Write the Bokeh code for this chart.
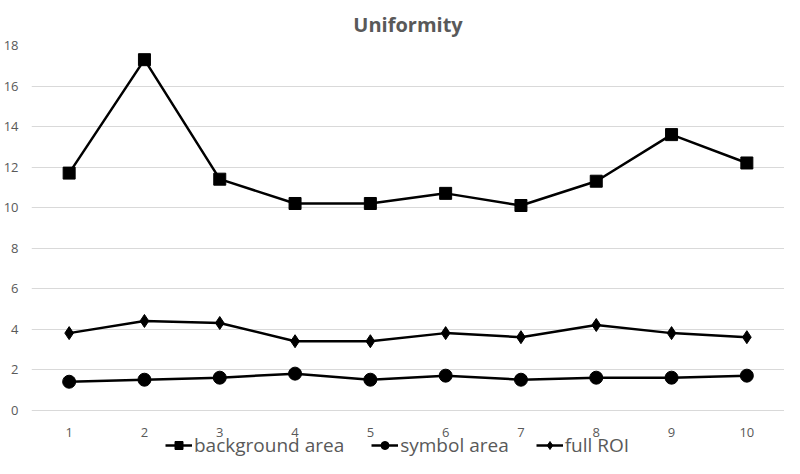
from bokeh.plotting import figure
from bokeh.models import Range1d, FixedTicker, Legend, LegendItem
from bokeh.embed import file_html
from bokeh.resources import INLINE

x = [1, 2, 3, 4, 5, 6, 7, 8, 9, 10]
background_area = [11.7, 17.3, 11.4, 10.2, 10.2, 10.7, 10.1, 11.3, 13.6, 12.2]
symbol_area = [1.4, 1.5, 1.6, 1.8, 1.5, 1.7, 1.5, 1.6, 1.6, 1.7]
full_roi = [3.8, 4.4, 4.3, 3.4, 3.4, 3.8, 3.6, 4.2, 3.8, 3.6]
y_ticks = [0, 2, 4, 6, 8, 10, 12, 14, 16, 18]

FONT = "Open Sans"
GRAY = "#595959"

p = figure(width=784, height=458, output_backend="svg", toolbar_location=None,
           x_range=Range1d(0.5, 10.5), y_range=Range1d(-2.39, 18),
           min_border_left=24, min_border_right=0, min_border_top=41, min_border_bottom=0)
p.outline_line_color = None
p.title.text = "Uniformity"
p.title.align = "center"
p.title.offset = -9
p.title.text_font = FONT
p.title.text_font_size = "20px"
p.title.text_font_style = "bold"
p.title.text_color = GRAY
p.title.standoff = 16

for ax in (p.xaxis[0], p.yaxis[0]):
    ax.axis_line_color = None
    ax.major_tick_line_color = None
    ax.minor_tick_line_color = None
    ax.major_label_text_font = FONT
    ax.major_label_text_font_size = "13px"
    ax.major_label_text_color = GRAY
p.xaxis.ticker = FixedTicker(ticks=x)
p.xaxis.fixed_location = 0
p.yaxis.ticker = FixedTicker(ticks=y_ticks)
p.xaxis.major_label_standoff = 12
p.yaxis.major_label_standoff = 7
p.xgrid.grid_line_color = None
p.ygrid.grid_line_color = "#d9d9d9"
p.ygrid.grid_line_width = 1

lw = 2.5
l1 = p.line(x, background_area, line_color="black", line_width=lw)
m1 = p.scatter(x, background_area, marker="square", size=12, fill_color="black", line_color="black")
l2 = p.line(x, symbol_area, line_color="black", line_width=lw)
m2 = p.scatter(x, symbol_area, marker="circle", size=13, fill_color="black", line_color="black")
l3 = p.line(x, full_roi, line_color="black", line_width=lw)
m3 = p.scatter(x, full_roi, marker="diamond", size=13, fill_color="black", line_color="black")

legend = Legend(items=[
    LegendItem(label="background area", renderers=[l1, m1]),
    LegendItem(label="symbol area", renderers=[l2, m2]),
    LegendItem(label="full ROI", renderers=[l3, m3]),
], orientation="horizontal", location=(134, 0),
    label_text_font=FONT, label_text_font_size="19px", label_text_color=GRAY,
    border_line_color=None, background_fill_alpha=0,
    glyph_width=27, label_standoff=2, spacing=27, padding=0, margin=0)
p.add_layout(legend, "center")

open("out.html", "w").write(file_html(p, INLINE))
